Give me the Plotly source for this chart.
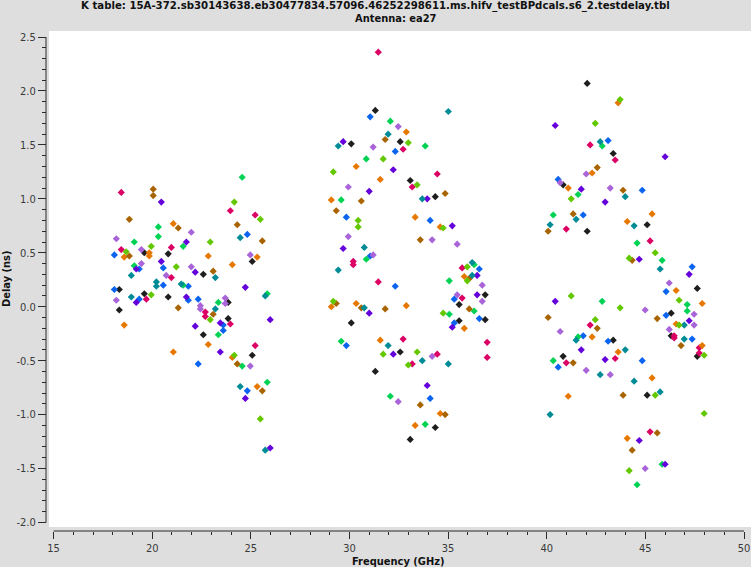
import plotly.graph_objects as go

# ---------------- data ----------------
title_line1 = "K table: 15A-372.sb30143638.eb30477834.57096.46252298611.ms.hifv_testBPdcals.s6_2.testdelay.tbl"
title_line2 = "Antenna: ea27"
x_label = "Frequency (GHz)"
y_label = "Delay (ns)"
x_ticks = [15, 20, 25, 30, 35, 40, 45, 50]
y_ticks = [-2.0, -1.5, -1.0, -0.5, 0.0, 0.5, 1.0, 1.5, 2.0, 2.5]

black_freq = [19.60, 20.81, 25.07, 22.59, 18.33, 19.60, 20.81, 23.85, 18.33, 23.85, 22.59, 25.07,
              31.31, 30.09, 32.57, 33.08, 34.35, 36.88, 35.56, 35.56, 36.88, 30.09, 32.57, 31.31, 34.35, 33.08,
              42.05, 43.37, 40.83, 42.05, 45.09, 47.63, 46.31, 46.31, 43.37, 40.83, 47.63, 45.09]
black_delay = [0.50, 0.49, 0.42, 0.30, 0.16, 0.12, 0.09, 0.04, -0.03, -0.11, -0.26, -0.45,
               1.82, 1.51, 1.53, 1.17, 1.02, 0.11, 0.02, -0.13, -0.12, -0.15, -0.42, -0.60, -1.12, -1.23,
               2.07, 1.42, 1.13, 0.70, 0.76, 0.17, -0.06, -0.27, -0.31, -0.46, -0.46, -0.82]

blue_freq = [18.08, 24.82, 19.34, 20.56, 20.56, 21.83, 18.08, 19.34, 21.83, 22.33, 23.60, 23.60, 22.33, 24.82,
             31.05, 32.32, 29.84, 34.09, 31.05, 36.58, 35.31, 32.32, 35.31, 36.58, 29.84, 34.09,
             43.11, 40.58, 44.84, 41.85, 47.37, 46.05, 46.05, 47.37, 41.85, 43.11, 44.84, 40.58]
blue_delay = [0.48, 0.67, 0.35, 0.36, 0.20, 0.19, 0.16, 0.07, 0.06, 0.07, -0.17, -0.22, -0.53, -0.78,
              1.76, 1.44, 0.83, 0.80, 0.47, 0.35, 0.07, 0.19, -0.15, -0.11, -0.36, -0.85,
              1.54, 1.18, 1.08, 0.85, 0.37, 0.14, -0.08, -0.30, -0.27, -0.32, -0.50, -0.56]

green_freq = [24.56, 20.31, 20.31, 19.09, 21.57, 19.09, 21.57, 23.35, 25.83, 23.35, 24.56, 25.83,
              32.07, 33.84, 30.85, 29.58, 30.85, 36.32, 35.06, 36.32, 35.06, 29.58, 32.07, 33.84,
              42.81, 41.59, 40.33, 44.58, 45.85, 47.12, 47.12, 42.81, 41.59, 40.33, 45.85, 44.58]
green_delay = [1.20, 0.74, 0.65, 0.60, 0.56, 0.38, 0.20, 0.04, 0.12, -0.26, -0.55, -0.70,
               1.72, 1.49, 1.37, 0.99, 0.44, 0.39, 0.24, -0.04, -0.07, -0.32, -0.83, -1.09,
               1.49, 1.04, 0.85, 0.59, 0.43, 0.02, -0.04, 0.05, -0.28, -0.50, -1.46, -1.65]

purple_freq = [20.46, 21.73, 20.46, 19.19, 22.18, 24.72, 21.73, 19.19, 25.98, 23.45, 22.18, 23.45, 24.72, 25.98,
               29.68, 32.22, 31.00, 33.94, 35.21, 29.68, 36.47, 36.47, 31.00, 35.21, 32.22, 33.94,
               40.43, 46.00, 41.75, 42.96, 44.69, 47.22, 40.43, 47.22, 41.75, 42.96, 44.69, 46.00]
purple_delay = [0.97, 0.60, 0.42, 0.35, 0.32, 0.18, 0.09, 0.04, -0.12, -0.15, -0.18, -0.42, -0.85, -1.31,
                1.53, 1.27, 1.07, 1.00, 0.75, 0.54, 0.29, 0.11, -0.06, -0.19, -0.44, -0.73,
                1.68, 1.39, 1.09, 0.97, 0.44, 0.30, 0.05, -0.13, -0.40, -0.49, -1.24, -1.46]

lavender_freq = [21.98, 18.18, 19.45, 24.97, 19.45, 21.98, 20.71, 18.18, 23.70, 23.70, 22.44, 22.44, 24.97,
                 32.47, 31.20, 29.94, 29.94, 34.19, 35.46, 31.20, 36.73, 35.46, 36.73, 34.19, 32.47,
                 42.00, 40.68, 43.22, 46.21, 47.47, 47.47, 46.21, 44.99, 40.68, 42.00, 43.22, 44.99]
lavender_delay = [0.69, 0.63, 0.53, 0.48, 0.40, 0.37, 0.29, 0.06, 0.08, 0.03, 0.01, -0.02, -0.55,
                  1.67, 1.48, 1.11, 0.65, 0.62, 0.58, 0.48, 0.20, 0.11, 0.05, -0.46, -0.88,
                  1.23, 1.15, 1.10, 0.22, -0.07, -0.17, -0.21, -0.03, -0.23, -0.59, -0.63, -1.50]

magenta_freq = [18.43, 23.96, 25.22, 20.97, 18.43, 20.97, 19.70, 22.69, 22.69, 23.96, 25.22,
                31.46, 32.72, 34.45, 33.18, 30.19, 30.19, 35.71, 31.46, 35.71, 32.72, 36.98, 34.45, 36.98, 33.18,
                42.20, 43.47, 40.99, 45.24, 46.46, 46.46, 47.73, 47.73, 42.20, 43.47, 40.99, 45.24]
magenta_delay = [1.06, 0.89, 0.85, 0.55, 0.53, 0.27, 0.07, -0.05, -0.09, -0.16, -0.36,
                 2.36, 1.46, 1.23, 1.11, 0.42, 0.39, 0.36, 0.23, 0.08, -0.30, -0.33, -0.44, -0.47, -0.53,
                 1.50, 1.36, 0.72, 0.61, -0.27, -0.29, -0.38, -0.43, -0.17, -0.48, -0.52, -1.16]

orange_freq = [21.07, 19.85, 18.58, 19.85, 22.84, 25.32, 24.06, 18.58, 22.84, 21.07, 24.06, 25.32,
               32.88, 30.34, 31.56, 29.08, 33.33, 34.60, 35.82, 30.34, 32.88, 29.08, 35.82, 31.56, 34.60, 33.33,
               43.62, 42.30, 41.09, 45.34, 44.08, 46.56, 47.88, 46.56, 47.88, 42.30, 43.62, 45.34, 41.09, 44.08]
orange_delay = [0.77, 0.50, 0.46, 0.47, 0.47, 0.46, 0.39, -0.17, -0.35, -0.42, -0.47, -0.74,
                1.62, 1.30, 1.18, 0.99, 0.83, 0.74, 0.28, 0.03, 0.01, 0.00, -0.20, -0.31, -0.99, -1.10,
                1.89, 1.24, 1.10, 0.86, 0.79, 0.15, 0.03, -0.16, -0.36, -0.28, -0.42, -0.66, -0.83, -1.22]

brown_freq = [20.05, 20.05, 18.84, 21.32, 24.31, 25.58, 18.84, 23.09, 21.32, 23.09, 24.31, 25.58,
              31.81, 34.85, 30.60, 29.33, 33.59, 36.07, 29.33, 30.60, 31.81, 36.07, 33.59, 34.85,
              42.56, 43.87, 41.34, 40.07, 44.33, 45.60, 46.81, 40.07, 42.56, 41.34, 43.87, 45.60, 44.33]
brown_delay = [1.09, 1.03, 0.81, 0.73, 0.76, 0.61, 0.47, 0.33, -0.01, -0.07, -0.53, -0.78,
               1.55, 1.05, 0.98, 0.89, 0.62, 0.26, 0.03, -0.01, -0.02, -0.02, -0.91, -1.00,
               1.29, 1.08, 0.86, 0.70, 0.43, -0.11, -0.36, -0.10, -0.20, -0.52, -0.82, -1.17, -1.33]

teal_freq = [24.46, 18.94, 23.20, 20.21, 20.21, 21.47, 18.94, 25.73, 23.20, 24.46, 25.73,
             35.01, 31.96, 29.43, 33.69, 30.75, 36.22, 29.43, 36.22, 30.75, 31.96, 33.69, 35.01,
             42.71, 43.98, 41.49, 40.17, 44.43, 45.75, 46.97, 46.97, 41.49, 43.98, 42.71, 44.43, 45.75, 40.17]
teal_delay = [0.64, 0.29, 0.27, 0.23, 0.19, 0.21, 0.09, 0.10, -0.02, -0.74, -1.33,
              1.81, 1.60, 1.49, 1.00, 0.55, 0.41, 0.34, 0.29, -0.01, -0.36, -0.50, -0.53,
              1.53, 1.02, 0.81, 0.76, 0.75, 0.35, -0.17, -0.30, -0.31, -0.40, -0.63, -0.69, -0.79, -1.00]

lime_freq = [24.16, 25.48, 19.95, 22.94, 18.68, 21.22, 19.95, 22.94, 24.16, 25.48,
             29.18, 31.71, 32.98, 33.43, 30.44, 30.44, 34.75, 35.97, 35.97, 29.18, 34.75, 31.71, 33.43, 32.98,
             43.72, 42.46, 41.24, 45.50, 44.18, 46.71, 46.71, 47.98, 41.24, 43.72, 42.46, 45.50, 47.98, 44.18]
lime_delay = [0.97, 0.81, 0.56, 0.60, 0.51, 0.37, 0.11, -0.12, -0.45, -1.04,
              1.25, 1.37, 1.52, 1.13, 0.80, 0.74, 0.73, 0.37, 0.24, 0.05, -0.06, -0.44, -0.42, -0.54,
              1.92, 1.70, 1.00, 0.50, 0.45, 0.06, -0.17, -0.45, 0.10, -0.01, -0.12, -0.82, -0.99, -1.52]

# ---------------- styling ----------------
series = [
    (black_freq, black_delay, "#1e1e1e"),
    (blue_freq, blue_delay, "#0a64f0"),
    (green_freq, green_delay, "#00d254"),
    (purple_freq, purple_delay, "#6400dc"),
    (lavender_freq, lavender_delay, "#a864d8"),
    (magenta_freq, magenta_delay, "#dc0064"),
    (orange_freq, orange_delay, "#e67800"),
    (brown_freq, brown_delay, "#a86400"),
    (teal_freq, teal_delay, "#008c96"),
    (lime_freq, lime_delay, "#64c800"),
]

W, H = 751, 567
ML, MR, MT, MB = 46, 0, 31, 36
PW = W - ML - MR
PH = H - MT - MB

FONT = "DejaVu Sans Condensed, DejaVu Sans, sans-serif"
GREY = "#dedede"
AXC = "#2a2a2a"

fig = go.Figure()
for fx, fy, col in series:
    fig.add_trace(go.Scatter(
        x=fx, y=fy, mode="markers",
        marker=dict(symbol="diamond", size=5.5, color=col, line=dict(width=0)),
        showlegend=False, hoverinfo="x+y",
    ))

fig.update_layout(
    template="none",
    width=W, height=H,
    margin=dict(l=ML, r=MR, t=MT, b=MB, pad=0, autoexpand=False),
    paper_bgcolor=GREY, plot_bgcolor="white",
    font=dict(family=FONT, size=11, color="#333333"),
    showlegend=False,
    xaxis=dict(
        domain=[3 / PW, 1], anchor="free", position=0, automargin=False,
        range=[14.767, 50.355], tickvals=x_ticks, ticktext=[str(v) for v in x_ticks],
        showgrid=False, zeroline=False, showline=False,
        ticks="outside", ticklen=7, tickwidth=1, tickcolor=AXC,
        minor=dict(dtick=1, tick0=15, ticks="outside", ticklen=3, tickcolor=AXC, showgrid=False),
        tickfont=dict(family=FONT, size=11, color="#3a3a3a"),
    ),
    yaxis=dict(
        domain=[4 / PH, 1], anchor="free", position=0, automargin=False,
        range=[-2.042, 2.556], tickvals=y_ticks, ticktext=[f"{v:.1f}" for v in y_ticks],
        showgrid=False, zeroline=False, showline=False,
        ticks="outside", ticklen=8, tickwidth=1, tickcolor=AXC,
        minor=dict(dtick=0.1, tick0=0, ticks="outside", ticklen=4, tickcolor=AXC, showgrid=False),
        tickfont=dict(family=FONT, size=11, color="#3a3a3a"),
    ),
    shapes=[
        dict(type="line", xref="x", yref="paper", x0=x_ticks[0], x1=x_ticks[-1], y0=0, y1=0,
             line=dict(color=AXC, width=1)),
        dict(type="line", xref="paper", yref="y", x0=0, x1=0, y0=y_ticks[0], y1=y_ticks[-1],
             line=dict(color=AXC, width=1)),
    ],
    annotations=[
        dict(text="<b>" + title_line1 + "</b>", xref="paper", yref="paper",
             x=(375.5 - ML) / PW, y=(H - MB - 6) / PH, xanchor="center", yanchor="middle",
             showarrow=False, font=dict(family=FONT, size=11.3, color="#111111")),
        dict(text="<b>" + title_line2 + "</b>", xref="paper", yref="paper",
             x=(396 - ML) / PW, y=(H - MB - 18.5) / PH, xanchor="center", yanchor="middle",
             showarrow=False, font=dict(family=FONT, size=11, color="#111111")),
        dict(text="<b>" + x_label + "</b>", xref="paper", yref="paper",
             x=(398.5 - ML) / PW, y=(H - MB - 561) / PH, xanchor="center", yanchor="middle",
             showarrow=False, font=dict(family=FONT, size=11, color="#111111")),
        dict(text="<b>" + y_label + "</b>", xref="paper", yref="paper",
             x=(6 - ML) / PW, y=(H - MB - 279) / PH, xanchor="center", yanchor="middle",
             textangle=-90, showarrow=False, font=dict(family=FONT, size=11, color="#111111")),
    ],
)

fig.write_html("out.html",
               config={"displayModeBar": False},
               post_script="document.body.style.margin='0';document.body.style.padding='0';")
